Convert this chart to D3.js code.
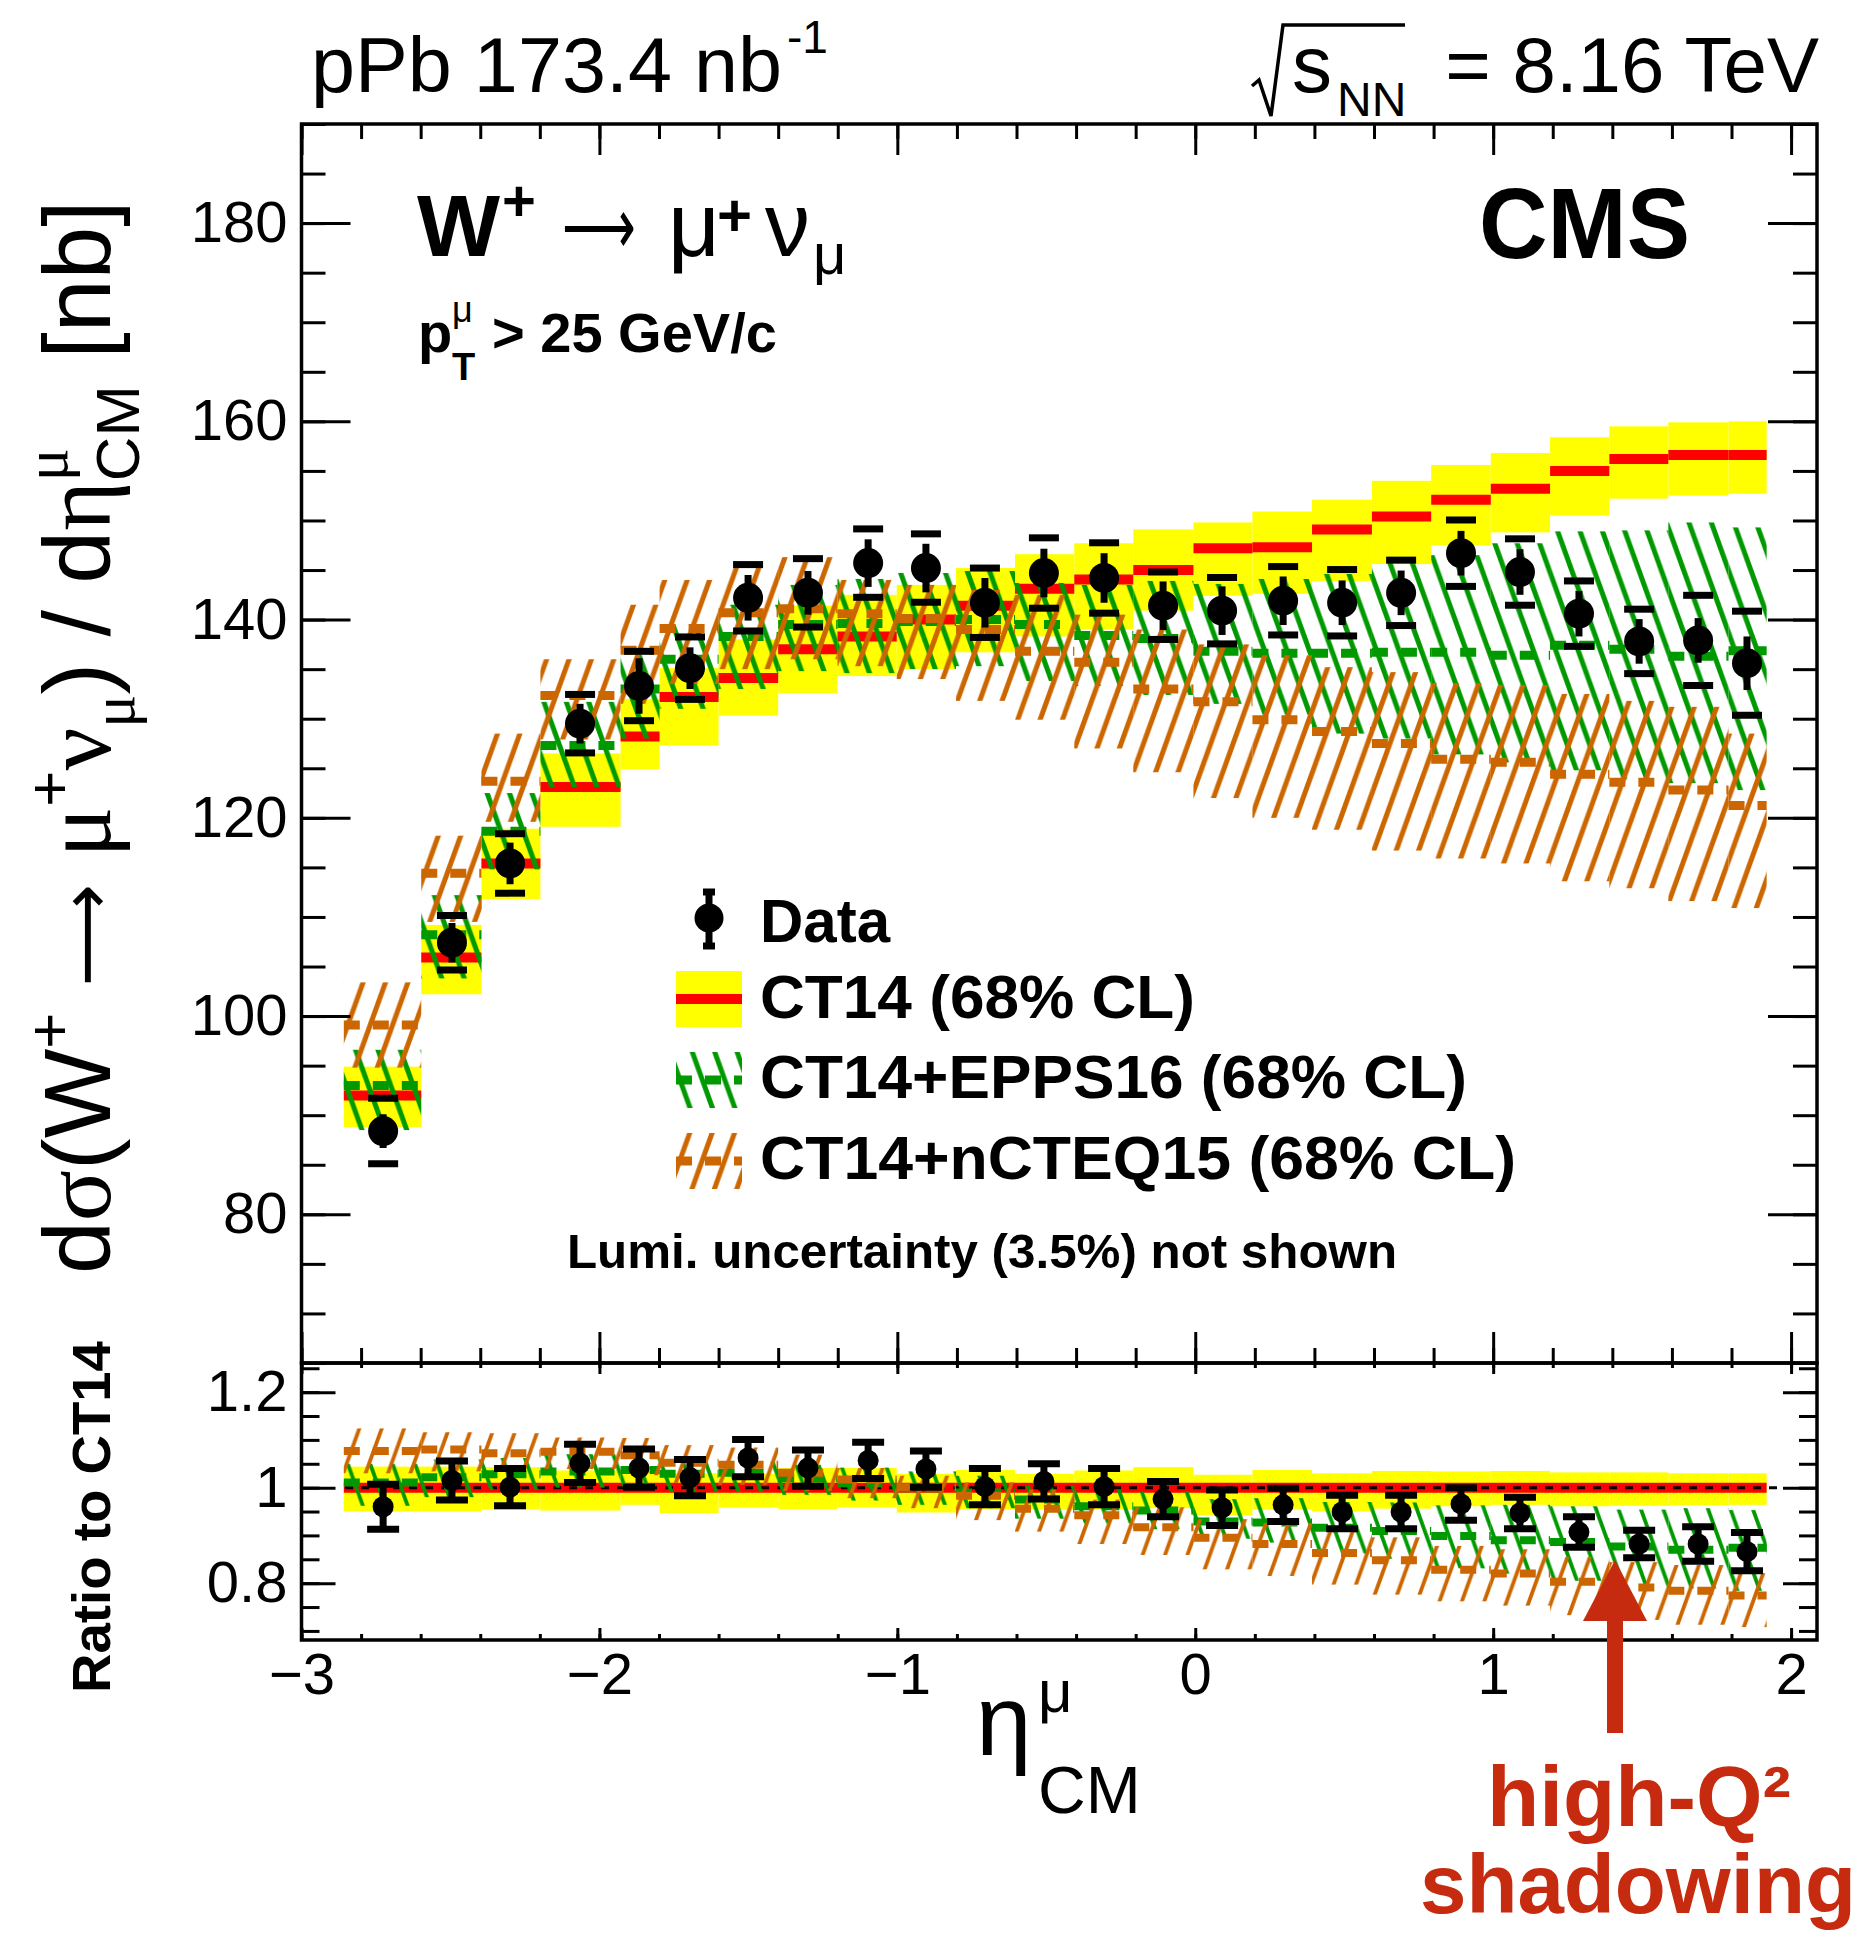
<!DOCTYPE html>
<html>
<head>
<meta charset="utf-8">
<script src="https://cdn.jsdelivr.net/npm/d3@7"></script>
<style>
  body { margin: 0; background: #fff; }
  svg { display: block; }
  text { font-family: "Liberation Sans", Arial, Helvetica, sans-serif; }
</style>
</head>
<body>
<div id="chart"></div>
<script>
// bin layout (eta_CM)
const etaEdges = [-2.858, -2.598, -2.396, -2.198, -1.929, -1.798, -1.600, -1.400, -1.201, -1.002, -0.803, -0.605, -0.406, -0.208, -0.006, 0.192, 0.392, 0.593, 0.792, 0.992, 1.191, 1.390, 1.588, 1.790, 1.918];
const etaData = [-2.726, -2.495, -2.300, -2.065, -1.867, -1.696, -1.501, -1.300, -1.098, -0.904, -0.706, -0.508, -0.306, -0.108, 0.090, 0.295, 0.493, 0.691, 0.892, 1.090, 1.288, 1.490, 1.688, 1.852];

// upper panel, d sigma / d eta [nb]
const dataXsec = [88.4, 107.4, 115.4, 129.5, 133.3, 135.1, 142.2, 142.7, 145.7, 145.2, 141.7, 144.7, 144.2, 141.4, 140.9, 141.9, 141.7, 142.7, 146.7, 144.8, 140.6, 137.8, 137.9, 135.6];
const dataStat = [1.7, 2.0, 2.1, 2.0, 2.8, 2.1, 2.3, 2.2, 2.4, 2.45, 2.5, 2.45, 2.5, 2.45, 2.45, 2.45, 2.25, 2.25, 2.25, 2.3, 2.3, 2.25, 2.25, 2.7];
const dataSyst = [3.3, 2.75, 3.0, 2.95, 3.5, 3.15, 3.35, 3.45, 3.45, 3.45, 3.5, 3.55, 3.55, 3.4, 3.35, 3.45, 3.35, 3.3, 3.35, 3.35, 3.3, 3.25, 4.55, 5.25];

const ct14 = [92.0, 105.9, 115.4, 123.1, 128.2, 132.2, 134.1, 137.0, 138.3, 140.0, 141.4, 143.1, 144.05, 145.0, 147.2, 147.3, 149.1, 150.4, 152.1, 153.2, 155.0, 156.2, 156.6, 156.6];
const ct14Lo = [88.8, 102.2, 111.8, 119.1, 124.9, 127.3, 130.3, 132.6, 134.3, 135.0, 136.7, 138.3, 139.0, 140.9, 142.4, 142.6, 143.9, 145.6, 147.5, 148.8, 150.5, 152.2, 152.5, 152.7];
const ct14Hi = [94.9, 109.2, 118.9, 126.5, 132.0, 135.1, 138.0, 141.4, 142.5, 143.5, 145.2, 146.6, 147.7, 149.1, 149.8, 150.9, 152.1, 154.0, 155.6, 156.8, 158.4, 159.5, 159.9, 160.0];

const epps16 = [93.0, 108.2, 118.65, 127.3, 133.0, 136.0, 138.3, 139.5, 139.6, 139.8, 140.0, 139.5, 138.4, 138.1, 136.8, 136.6, 136.6, 136.7, 136.7, 136.4, 137.4, 137.0, 136.3, 136.85];
const epps16Lo = [88.5, 103.8, 114.8, 123.1, 128.0, 131.0, 133.0, 134.8, 134.6, 135.0, 135.3, 133.8, 133.3, 132.4, 131.5, 130.4, 128.5, 128.0, 126.4, 125.6, 124.8, 123.9, 123.5, 122.8];
const epps16Hi = [96.6, 112.2, 122.5, 131.7, 136.5, 139.5, 141.5, 143.5, 144.1, 144.7, 144.9, 143.7, 143.5, 143.9, 143.6, 144.1, 144.6, 145.7, 146.5, 147.7, 148.9, 149.0, 149.8, 149.3];

const ncteq15 = [99.1, 114.4, 123.7, 132.35, 136.9, 139.1, 140.7, 141.1, 140.6, 140.1, 139.0, 136.8, 135.7, 133.0, 131.7, 129.9, 128.7, 127.5, 125.9, 125.6, 124.4, 123.6, 122.8, 121.25];
const ncteq15Lo = [94.8, 109.5, 119.6, 127.9, 131.5, 133.5, 135.0, 136.0, 135.3, 134.0, 131.8, 129.9, 127.0, 124.6, 122.0, 120.0, 118.8, 116.7, 115.9, 115.4, 113.6, 112.9, 111.6, 110.9];
const ncteq15Hi = [103.4, 118.2, 128.5, 136.0, 141.5, 144.0, 145.5, 146.3, 144.0, 143.5, 143.0, 142.5, 140.5, 139.0, 137.5, 136.4, 135.2, 134.7, 133.6, 133.4, 132.5, 131.8, 131.2, 128.5];

// lower panel, ratio to CT14
const ratioData = [0.960, 1.015, 1.001, 1.051, 1.041, 1.021, 1.062, 1.041, 1.057, 1.039, 1.002, 1.013, 1.002, 0.976, 0.958, 0.964, 0.949, 0.949, 0.966, 0.947, 0.907, 0.882, 0.882, 0.866];
const ratioErr = [0.047, 0.041, 0.039, 0.040, 0.040, 0.038, 0.039, 0.038, 0.038, 0.038, 0.038, 0.037, 0.038, 0.037, 0.037, 0.035, 0.035, 0.035, 0.034, 0.033, 0.032, 0.029, 0.036, 0.040];
const ct14RatioLo = [0.950, 0.950, 0.954, 0.952, 0.964, 0.947, 0.958, 0.955, 0.959, 0.948, 0.954, 0.954, 0.954, 0.957, 0.942, 0.954, 0.950, 0.956, 0.961, 0.964, 0.961, 0.962, 0.963, 0.964];
const ct14RatioHi = [1.044, 1.044, 1.043, 1.036, 1.036, 1.030, 1.029, 1.041, 1.041, 1.029, 1.037, 1.029, 1.036, 1.043, 1.027, 1.037, 1.030, 1.035, 1.034, 1.035, 1.032, 1.032, 1.030, 1.030];
const eppsRatio = [1.011, 1.022, 1.028, 1.034, 1.037, 1.029, 1.031, 1.019, 1.009, 0.999, 0.990, 0.975, 0.961, 0.952, 0.929, 0.927, 0.916, 0.909, 0.899, 0.890, 0.886, 0.877, 0.870, 0.874];
const eppsRatioLo = [0.962, 0.980, 0.995, 1.000, 0.998, 0.991, 0.991, 0.985, 0.973, 0.964, 0.957, 0.935, 0.925, 0.913, 0.893, 0.885, 0.862, 0.851, 0.831, 0.820, 0.805, 0.793, 0.789, 0.784];
const eppsRatioHi = [1.050, 1.059, 1.062, 1.070, 1.065, 1.055, 1.054, 1.048, 1.042, 1.034, 1.025, 1.004, 0.996, 0.992, 0.976, 0.978, 0.970, 0.969, 0.963, 0.964, 0.961, 0.954, 0.957, 0.953];
const ncteqRatio = [1.077, 1.080, 1.072, 1.075, 1.068, 1.052, 1.048, 1.031, 1.017, 1.001, 0.983, 0.956, 0.942, 0.917, 0.895, 0.882, 0.863, 0.848, 0.828, 0.820, 0.803, 0.791, 0.784, 0.774];
const ncteqRatioLo = [1.030, 1.034, 1.036, 1.039, 1.026, 1.010, 1.006, 0.993, 0.978, 0.957, 0.932, 0.908, 0.882, 0.859, 0.829, 0.815, 0.797, 0.776, 0.762, 0.753, 0.733, 0.723, 0.713, 0.708];
const ncteqRatioHi = [1.124, 1.116, 1.114, 1.105, 1.104, 1.089, 1.084, 1.069, 1.041, 1.025, 1.011, 0.996, 0.975, 0.959, 0.934, 0.926, 0.907, 0.896, 0.878, 0.871, 0.855, 0.844, 0.838, 0.821];
const unityRange = [-2.854, 1.96];

// tick labels
const xTickValues = [-3, -2, -1, 0, 1, 2];
const yTickValues = [80, 100, 120, 140, 160, 180];
const ratioTickValues = [0.8, 1.0, 1.2];

const theme = {
  yellow: "#ffff00",
  red: "#ff0000",
  green: "#009900",
  orange: "#cc6600",
  annot: "#c62b10",
};
const serif = "'Liberation Serif', 'DejaVu Serif', serif";
const arrowFont = "'DejaVu Sans', sans-serif";

const width = 1865, height = 1938;
const frame = { left: 301.5, right: 1817, top: 124, mid: 1363, bottom: 1640 };

const svg = d3.select("#chart").append("svg").attr("width", width).attr("height", height);
const defs = svg.append("defs");

const x = d3.scaleLinear().domain([-3, 2.087]).range([frame.left, frame.right]);
const y = d3.scaleLinear().domain([65, 190]).range([frame.mid, frame.top]);
const yR = d3.scaleLinear().domain([0.681, 1.261]).range([frame.bottom, frame.mid]);

const addClip = (id, y0, y1) =>
  defs.append("clipPath").attr("id", id).append("rect")
    .attr("x", frame.left).attr("y", y0).attr("width", frame.right - frame.left).attr("height", y1 - y0);
addClip("clipTop", frame.top, frame.mid);
addClip("clipBot", frame.mid, frame.bottom);

// hatch fill like ROOT 3004/3005
const makeHatch = (id, color, dir, lw) => {
  const w = 22.4, h = w / 0.36;
  const p = defs.append("pattern").attr("id", id).attr("patternUnits", "userSpaceOnUse")
    .attr("width", w).attr("height", h);
  [-1, 0, 1].forEach((k) => {
    const x0 = k * w;
    const l = p.append("line").attr("stroke", color).attr("stroke-width", lw);
    if (dir === "/") l.attr("x1", x0 - w).attr("y1", 2 * h).attr("x2", x0 + 2 * w).attr("y2", -h);
    else l.attr("x1", x0 - w).attr("y1", -h).attr("x2", x0 + 2 * w).attr("y2", 2 * h);
  });
};
makeHatch("hGreen", theme.green, "\\", 5);
makeHatch("hOrange", theme.orange, "/", 5);
makeHatch("hGreenR", theme.green, "\\", 3.8);
makeHatch("hOrangeR", theme.orange, "/", 3.8);

const bins = etaData.map((e, i) => ({ i, x0: etaEdges[i], x1: etaEdges[i + 1] }));

const drawBand = (g, ys, lo, hi, fill) => {
  g.append("g").selectAll("rect").data(bins).join("rect")
    .attr("x", (d) => x(d.x0))
    .attr("width", (d) => x(d.x1) - x(d.x0))
    .attr("y", (d) => ys(hi[d.i]))
    .attr("height", (d) => ys(lo[d.i]) - ys(hi[d.i]))
    .attr("fill", fill);
};

const drawCentral = (g, ys, vals, color, lw, dash) => {
  g.append("g").selectAll("line").data(bins).join("line")
    .attr("x1", (d) => x(d.x0))
    .attr("x2", (d) => x(d.x1))
    .attr("y1", (d) => ys(vals[d.i]))
    .attr("y2", (d) => ys(vals[d.i]))
    .attr("stroke", color)
    .attr("stroke-width", lw)
    .attr("stroke-dasharray", dash);
};

const drawPoints = (g, ys, vals, stat, syst, r, capW) => {
  const pts = etaData.map((e, i) => ({ e, v: vals[i], st: stat[i], sy: syst[i] }));
  const gg = g.append("g");
  gg.selectAll(".stat").data(pts).join("line")
    .attr("x1", (d) => x(d.e)).attr("x2", (d) => x(d.e))
    .attr("y1", (d) => ys(d.v - d.st)).attr("y2", (d) => ys(d.v + d.st))
    .attr("stroke", "#000").attr("stroke-width", 7);
  [-1, 1].forEach((s) => {
    gg.append("g").selectAll("line").data(pts).join("line")
      .attr("x1", (d) => x(d.e) - capW / 2).attr("x2", (d) => x(d.e) + capW / 2)
      .attr("y1", (d) => ys(d.v + s * d.sy)).attr("y2", (d) => ys(d.v + s * d.sy))
      .attr("stroke", "#000").attr("stroke-width", 7);
  });
  gg.selectAll("circle").data(pts).join("circle")
    .attr("cx", (d) => x(d.e)).attr("cy", (d) => ys(d.v)).attr("r", r).attr("fill", "#000");
};

// ---------- upper panel ----------
const topPanel = svg.append("g").attr("clip-path", "url(#clipTop)");
drawBand(topPanel, y, ct14Lo, ct14Hi, theme.yellow);
drawCentral(topPanel, y, ct14, theme.red, 10, null);
drawBand(topPanel, y, epps16Lo, epps16Hi, "url(#hGreen)");
drawCentral(topPanel, y, epps16, theme.green, 9, "16 13");
drawBand(topPanel, y, ncteq15Lo, ncteq15Hi, "url(#hOrange)");
drawCentral(topPanel, y, ncteq15, theme.orange, 9, "16 13");
drawPoints(topPanel, y, dataXsec, dataStat, dataSyst, 15, 30);

// ---------- lower panel ----------
const botPanel = svg.append("g").attr("clip-path", "url(#clipBot)");
drawBand(botPanel, yR, ct14RatioLo, ct14RatioHi, theme.yellow);
botPanel.append("line")
  .attr("x1", x(etaEdges[0])).attr("x2", x(etaEdges[etaEdges.length - 1]))
  .attr("y1", yR(1)).attr("y2", yR(1))
  .attr("stroke", theme.red).attr("stroke-width", 10);
botPanel.append("line")
  .attr("x1", x(unityRange[0])).attr("x2", x(unityRange[1]))
  .attr("y1", yR(1)).attr("y2", yR(1))
  .attr("stroke", "#000").attr("stroke-width", 3).attr("stroke-dasharray", "8 8");
drawBand(botPanel, yR, eppsRatioLo, eppsRatioHi, "url(#hGreenR)");
drawCentral(botPanel, yR, eppsRatio, theme.green, 8, "16 13");
drawBand(botPanel, yR, ncteqRatioLo, ncteqRatioHi, "url(#hOrangeR)");
drawCentral(botPanel, yR, ncteqRatio, theme.orange, 8, "16 13");
drawPoints(botPanel, yR, ratioData, ratioErr, ratioErr, 10.5, 32);

// ---------- axes ----------
const styleAxis = (g) => {
  g.select(".domain").remove();
  g.selectAll(".tick line").attr("stroke", "#000").attr("stroke-width", 3);
  g.selectAll(".tick text").attr("font-size", 58).attr("fill", "#000")
    .attr("font-family", "'Liberation Sans', Arial, sans-serif");
};
const axisPair = (gen, scale, pos, minorVals, majorVals, minorLen, majorLen, fmt, pad) => {
  svg.append("g").attr("transform", pos)
    .call(gen(scale).tickValues(minorVals).tickSize(-minorLen).tickFormat(""))
    .call(styleAxis);
  svg.append("g").attr("transform", pos)
    .call(gen(scale).tickValues(majorVals).tickSize(-majorLen).tickPadding(pad).tickFormat(fmt))
    .call(styleAxis);
};
const xMinor = x.ticks(25);
const yMinor = y.ticks(25);
const rMinor = yR.ticks(12);
const xFmt = (d) => (d < 0 ? "\u2212" + Math.abs(d) : String(d));

// upper panel
axisPair(d3.axisLeft, y, `translate(${frame.left},0)`, yMinor, yTickValues, 24, 49, d3.format("d"), 14);
axisPair(d3.axisRight, y, `translate(${frame.right},0)`, yMinor, yTickValues, 24, 49, "", 0);
axisPair(d3.axisTop, x, `translate(0,${frame.top})`, xMinor, xTickValues, 15, 31, "", 0);
axisPair(d3.axisBottom, x, `translate(0,${frame.mid})`, xMinor, xTickValues, 15, 31, "", 0);
// lower panel
const rFmt = (d) => (d === 1 ? "1" : d.toFixed(1));
axisPair(d3.axisLeft, yR, `translate(${frame.left},0)`, rMinor, ratioTickValues, 18, 34, rFmt, 14);
axisPair(d3.axisRight, yR, `translate(${frame.right},0)`, rMinor, ratioTickValues, 18, 34, "", 0);
axisPair(d3.axisTop, x, `translate(0,${frame.mid})`, xMinor, xTickValues, 5, 11, "", 0);
axisPair(d3.axisBottom, x, `translate(0,${frame.bottom})`, xMinor, xTickValues, 6, 12, xFmt, 13);

// frames
[[frame.top, frame.mid], [frame.mid, frame.bottom]].forEach(([a, b]) => {
  svg.append("rect").attr("x", frame.left).attr("y", a)
    .attr("width", frame.right - frame.left).attr("height", b - a)
    .attr("fill", "none").attr("stroke", "#000").attr("stroke-width", 3.5);
});

// ---------- text helpers ----------
const label = (x0, y0, str, size, o = {}) =>
  svg.append("text").attr("x", x0).attr("y", y0).attr("font-size", size)
    .attr("font-weight", o.bold ? "bold" : null)
    .attr("font-family", o.family || null)
    .attr("text-anchor", o.anchor || null)
    .attr("fill", o.fill || "#000")
    .attr("textLength", o.len || null)
    .attr("lengthAdjust", o.len ? "spacingAndGlyphs" : null)
    .text(str);

// header
label(311, 92, "pPb 173.4 nb", 78, { len: 471 });
label(787, 53, "-1", 46);
svg.append("path").attr("d", "M1252,86 L1259,80 L1271,116 L1283,25 L1405,25")
  .attr("fill", "none").attr("stroke", "#000").attr("stroke-width", 3.5);
label(1292, 92, "s", 80);
label(1337, 116, "NN", 48);
label(1819, 92, "= 8.16 TeV", 78, { anchor: "end" });

// process label
label(417, 256, "W", 88, { bold: true });
label(502, 221, "+", 58, { bold: true });
label(562, 254, "\u27f6", 80, { family: arrowFont, len: 74 });
label(668, 256, "\u03bc", 90, { family: serif });
label(717, 236, "+", 60, { bold: true });
label(765, 256, "\u03bd", 90, { family: serif });
label(813, 274, "\u03bc", 58, { family: serif });
label(418, 352, "p", 56, { bold: true });
label(452, 322, "\u03bc", 36, { family: serif });
label(452, 380, "T", 38, { bold: true });
label(492, 352, "> 25 GeV/c", 56, { bold: true });
label(1479, 258, "CMS", 100, { bold: true, len: 211 });

// legend
const leg = svg.append("g");
leg.append("line").attr("x1", 709).attr("x2", 709).attr("y1", 892).attr("y2", 946)
  .attr("stroke", "#000").attr("stroke-width", 7);
[892, 946].forEach((yy) => leg.append("line").attr("x1", 703).attr("x2", 715)
  .attr("y1", yy).attr("y2", yy).attr("stroke", "#000").attr("stroke-width", 7));
leg.append("circle").attr("cx", 709).attr("cy", 918).attr("r", 14.5).attr("fill", "#000");
leg.append("rect").attr("x", 676).attr("y", 971).attr("width", 66).attr("height", 56).attr("fill", theme.yellow);
leg.append("rect").attr("x", 676).attr("y", 994).attr("width", 66).attr("height", 10).attr("fill", theme.red);
[[1052, "url(#hGreen)", theme.green], [1133, "url(#hOrange)", theme.orange]].forEach(([y0, f, c]) => {
  leg.append("rect").attr("x", 676).attr("y", y0).attr("width", 66).attr("height", 56).attr("fill", f);
  leg.append("line").attr("x1", 676).attr("x2", 742).attr("y1", y0 + 28).attr("y2", y0 + 28)
    .attr("stroke", c).attr("stroke-width", 9).attr("stroke-dasharray", "16 13");
});
label(760, 942, "Data", 62, { bold: true, len: 130 });
label(760, 1018, "CT14 (68% CL)", 62, { bold: true, len: 435 });
label(760, 1098, "CT14+EPPS16 (68% CL)", 62, { bold: true, len: 707 });
label(760, 1179, "CT14+nCTEQ15 (68% CL)", 62, { bold: true, len: 756 });
label(567, 1268, "Lumi. uncertainty (3.5%) not shown", 48, { bold: true, len: 830 });

// y axis titles
const em = 95;
const yTitle = svg.append("text").attr("transform", "translate(110,1274) rotate(-90)")
  .attr("font-size", em).attr("fill", "#000");
const parts = [
  { t: "d" }, { t: "\u03c3", f: serif }, { t: "(W" },
  { t: "+", s: 0.65, dy: -0.42 }, { t: " ", dy: 0.42 },
  { t: "\u27f6", f: arrowFont, s: 0.75 }, { t: " " },
  { t: "\u03bc", f: serif }, { t: "+", s: 0.65, dy: -0.42 },
  { t: "\u03bd", f: serif, dy: 0.42 }, { t: "\u03bc", f: serif, s: 0.65, dy: 0.25 },
  { t: ") / d", dy: -0.25 }, { t: "\u03b7", f: serif },
  { t: "\u03bc", f: serif, s: 0.65, dy: -0.45 },
  { t: "CM", s: 0.65, dy: 0.75, back: true },
  { t: " [nb]", dy: -0.3 },
];
let prev = null;
parts.forEach((p) => {
  const ts = yTitle.append("tspan").text(p.t)
    .attr("font-size", p.s ? p.s * em : null)
    .attr("font-family", p.f || null)
    .attr("dy", p.dy ? p.dy * em : null);
  if (p.back && prev) ts.attr("dx", -prev.node().getComputedTextLength());
  prev = ts;
});
svg.append("text").attr("transform", "translate(110,1693) rotate(-90)")
  .attr("font-size", 54).attr("font-weight", "bold").attr("fill", "#000").attr("textLength", 352)
  .attr("lengthAdjust", "spacingAndGlyphs").text("Ratio to CT14");

// x axis title
label(976, 1755, "\u03b7", 100, { family: serif });
label(1038, 1712, "\u03bc", 60, { family: serif });
label(1038, 1813, "CM", 66);

// annotation
svg.append("rect").attr("x", 1607).attr("y", 1616).attr("width", 16).attr("height", 117).attr("fill", theme.annot);
svg.append("path").attr("d", "M1583,1621 L1615,1560 L1647,1621 Z").attr("fill", theme.annot);
label(1487, 1826, "high-Q\u00b2", 86, { bold: true, fill: theme.annot, len: 304 });
label(1420, 1913, "shadowing", 84, { bold: true, fill: theme.annot, len: 436 });
</script>
</body>
</html>
